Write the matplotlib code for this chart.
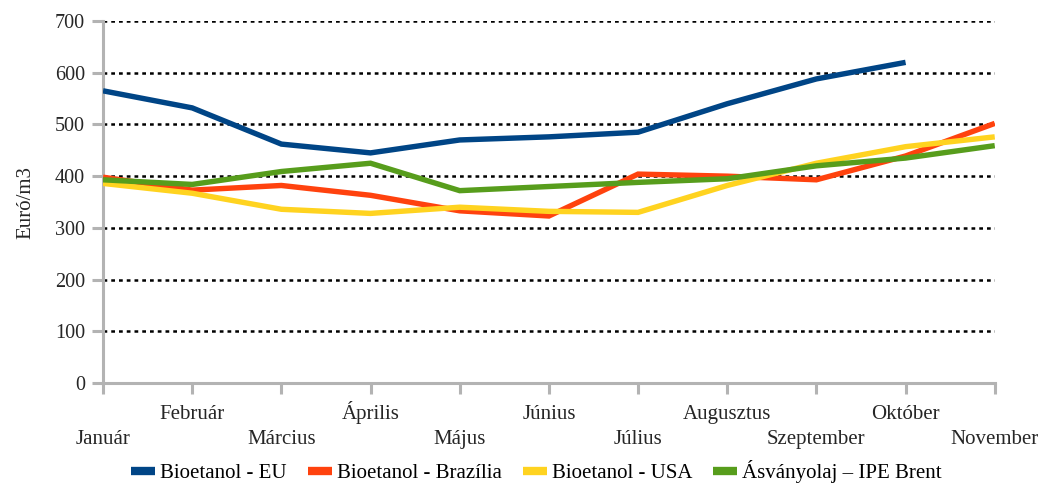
import numpy as np
import matplotlib.pyplot as plt
from matplotlib.ticker import FixedLocator

# monthly prices, Euro/m3
months = ['Január', 'Február', 'Március', 'Április', 'Május', 'Június',
          'Július', 'Augusztus', 'Szeptember', 'Október', 'November']
eu = [565, 532, 462, 445, 470, 476, 485, 540, 588, 620, np.nan]
brazil = [398, 373, 382, 363, 333, 323, 404, 400, 393, 439, 502]
usa = [386, 367, 336, 328, 340, 332, 330, 382, 425, 457, 476]
brent = [393, 384, 409, 425, 372, 380, 388, 395, 420, 435, 459]

series = [
    ('Bioetanol - EU', eu, '#004586'),
    ('Bioetanol - Brazília', brazil, '#ff420e'),
    ('Bioetanol - USA', usa, '#ffd320'),
    ('Ásványolaj – IPE Brent', brent, '#579d1c'),
]

plt.rcParams['font.family'] = ['Liberation Serif', 'DejaVu Serif']
txt = '#262626'

fig = plt.figure(figsize=(10.46, 4.88), dpi=100)
ax = fig.add_axes([0.0985, 0.215, 0.8525, 0.742])

x = np.arange(len(months))
for name, vals, col in series:
    ax.plot(x, vals, color=col, lw=3.9, label=name, zorder=3,
            solid_joinstyle='miter', solid_capstyle='butt')

ax.set_xlim(0, len(months) - 1)
ax.set_ylim(0, 700)
ax.set_yticks(np.arange(0, 701, 100))
ax.yaxis.grid(True, color='black', lw=1.8, linestyle=(0, (1.5, 1.6)), zorder=1)
ax.set_axisbelow(True)

# alternate month labels on two rows
ax.xaxis.set_major_locator(FixedLocator(x[0::2]))
ax.xaxis.set_minor_locator(FixedLocator(x[1::2]))
ax.set_xticklabels(months[0::2])
ax.set_xticklabels(months[1::2], minor=True)

gray = '#b3b3b3'
for s in ['top', 'right']:
    ax.spines[s].set_visible(False)
for s in ['left', 'bottom']:
    ax.spines[s].set_color(gray)
    ax.spines[s].set_linewidth(2.2)

ax.tick_params(axis='x', which='major', length=8, width=2.2, color=gray,
               pad=36, labelsize=15, labelcolor=txt)
ax.tick_params(axis='x', which='minor', length=8, width=2.2, color=gray,
               pad=18, labelsize=15, labelcolor=txt)
ax.tick_params(axis='y', length=8, width=2.2, color=gray, pad=5,
               labelsize=14.5, labelcolor=txt)
for lab in ax.get_xticklabels(which='both'):
    lab.set_verticalalignment('baseline')

ax.set_ylabel('Euró/m3', fontsize=15, color=txt, labelpad=14)

leg = fig.legend(loc='lower center', bbox_to_anchor=(0.513, -0.028), ncol=4,
                 frameon=False, fontsize=15, handlelength=1.15,
                 handletextpad=0.25, columnspacing=1.0)
for h in leg.legend_handles:
    h.set_linewidth(6)

fig.savefig('out.png', dpi=100)
